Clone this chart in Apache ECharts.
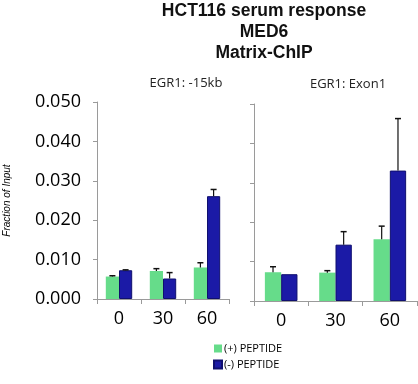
<!DOCTYPE html>
<html><head><meta charset="utf-8">
<script src="https://cdn.jsdelivr.net/npm/echarts@6/dist/echarts.min.js"></script>
<style>html,body{margin:0;padding:0;background:#fff}#c{width:418px;height:384px}</style>
</head><body><div id="c"></div>
<script>
const categories = ['0', '30', '60'];
const seriesNames = ['(+) PEPTIDE', '(-) PEPTIDE'];
const panelTitles = ['EGR1: -15kb', 'EGR1: Exon1'];
const leftPlus = [0.0057, 0.0071, 0.0080];
const leftPlusErr = [0.0002, 0.0006, 0.0012];
const leftMinus = [0.0073, 0.0052, 0.0261];
const leftMinusErr = [0.0001, 0.0015, 0.0017];
const rightPlus = [0.0073, 0.0072, 0.0157];
const rightPlusErr = [0.0014, 0.0005, 0.0033];
const rightMinus = [0.0068, 0.0143, 0.0331];
const rightMinusErr = [0.0000, 0.0033, 0.0132];
const yTicks = ['0.000', '0.010', '0.020', '0.030', '0.040', '0.050'];

const GREEN = '#66dc8a', BLUE = '#1b1aa6', BLUE_B = '#0f0f6e';
const CAT_GAP = 0.4;

function errSeries(idx, vals, errs, side) {
  return {
    type: 'custom', xAxisIndex: idx, yAxisIndex: idx, silent: true, z: 5,
    data: vals.map((v, i) => [i, v, errs[i]]),
    renderItem: function (params, api) {
      const band = api.size([1, 0])[0];
      const bw = band * (1 - CAT_GAP) / 2;
      const base = api.coord([api.value(0), api.value(1)]);
      const top = api.coord([api.value(0), api.value(1) + api.value(2)]);
      const x = base[0] + side * bw / 2;
      if (api.value(2) <= 0) return null;
      return {
        type: 'group', children: [
          { type: 'line', shape: { x1: x, y1: base[1], x2: x, y2: top[1] }, style: { stroke: '#111', lineWidth: 1.2 } },
          { type: 'line', shape: { x1: x - 3, y1: top[1], x2: x + 3, y2: top[1] }, style: { stroke: '#111', lineWidth: 1.5 } }
        ]
      };
    }
  };
}

const axisColor = '#9a9a9a';
function xAx(idx) {
  return {
    type: 'category', gridIndex: idx, data: categories,
    axisLine: { lineStyle: { color: axisColor } },
    axisTick: { show: true, length: 5, lineStyle: { color: axisColor } },
    axisLabel: { fontSize: 18, color: '#000', fontFamily: 'Open Sans', margin: 11 }
  };
}
function yAx(idx) {
  return {
    type: 'value', gridIndex: idx, min: 0, max: 0.05, interval: 0.01,
    splitLine: { show: false },
    axisLine: { show: true, lineStyle: { color: axisColor } },
    axisTick: { show: true, length: 4, lineStyle: { color: axisColor } },
    axisLabel: {
      show: idx === 0, fontSize: 18, color: '#000', fontFamily: 'Open Sans', margin: 16,
      formatter: v => yTicks[Math.round(v / 0.01)]
    },
    name: idx === 0 ? 'Fraction of Input' : '',
    nameLocation: 'middle', nameGap: 85, nameRotate: 90,
    nameTextStyle: { fontSize: 10, fontStyle: 'italic', fontFamily: 'Liberation Sans', color: '#000' }
  };
}
function barS(idx, name, data, color, border) {
  return {
    type: 'bar', name: name, xAxisIndex: idx, yAxisIndex: idx, data: data,
    barGap: '0%', barCategoryGap: (CAT_GAP * 100) + '%',
    itemStyle: { color: color, borderColor: border, borderWidth: border ? 1 : 0 }
  };
}

const chart = echarts.init(document.getElementById('c'), null, { renderer: 'canvas' });
chart.setOption({
  animation: false,
  backgroundColor: '#fff',
  title: [
    { text: 'HCT116 serum response\nMED6\nMatrix-ChIP', left: 259, top: -4, textAlign: 'center',
      textStyle: { fontSize: 17.5, fontWeight: 'bold', lineHeight: 21, fontFamily: 'Liberation Sans', color: '#111' } },
    { text: panelTitles[0], left: 181, top: 72, textAlign: 'center',
      textStyle: { fontSize: 13, fontWeight: 'normal', fontFamily: 'Open Sans', color: '#222' } },
    { text: panelTitles[1], left: 343, top: 73, textAlign: 'center',
      textStyle: { fontSize: 13, fontWeight: 'normal', fontFamily: 'Open Sans', color: '#222' } }
  ],
  legend: {
    data: seriesNames, orient: 'vertical', left: 208, top: 338,
    icon: 'rect', itemWidth: 8, itemHeight: 8, itemGap: 5,
    textStyle: { fontSize: 11, fontFamily: 'Open Sans', color: '#000', padding: [0, 0, 0, -3] }
  },
  grid: [
    { left: 97, top: 102, width: 132, height: 197 },
    { left: 254, top: 104, width: 163, height: 197 }
  ],
  xAxis: [xAx(0), xAx(1)],
  yAxis: [yAx(0), yAx(1)],
  series: [
    barS(0, seriesNames[0], leftPlus, GREEN, null),
    barS(0, seriesNames[1], leftMinus, BLUE, BLUE_B),
    barS(1, seriesNames[0], rightPlus, GREEN, null),
    barS(1, seriesNames[1], rightMinus, BLUE, BLUE_B),
    errSeries(0, leftPlus, leftPlusErr, -1),
    errSeries(0, leftMinus, leftMinusErr, 1),
    errSeries(1, rightPlus, rightPlusErr, -1),
    errSeries(1, rightMinus, rightMinusErr, 1)
  ]
});
</script></body></html>
